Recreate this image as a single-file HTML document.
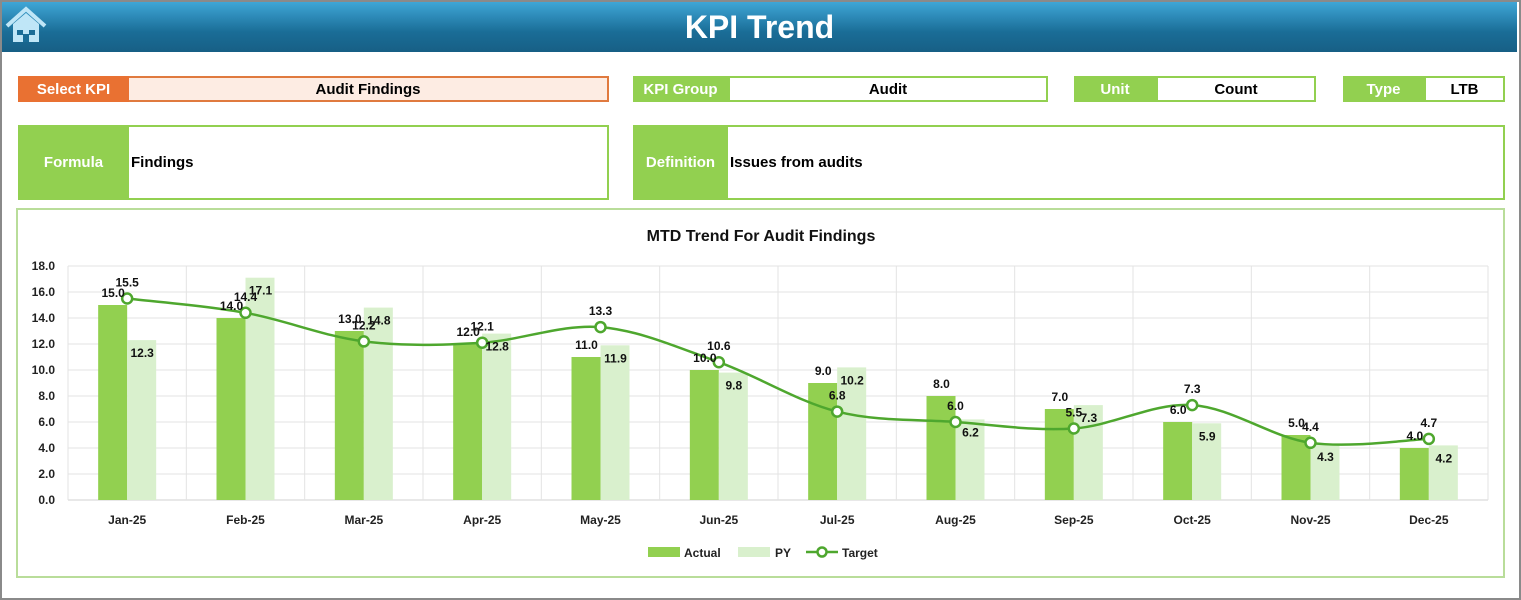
<!DOCTYPE html>
<html><head><meta charset="utf-8"><style>
*{margin:0;padding:0;box-sizing:border-box}
body{width:1521px;height:600px;background:#fff;position:relative;overflow:hidden;font-family:"Liberation Sans Narrow","Liberation Sans",sans-serif;font-weight:bold}
.frame{position:absolute;left:0;top:0;width:1521px;height:600px;border:2px solid #8a8a8a}
.hdr{position:absolute;left:2px;top:2px;width:1515px;height:50px;background:linear-gradient(#3fa6d6,#1a6d97 60%,#175f85);color:#fff;font-size:32px;text-align:center;line-height:50px;font-family:"Liberation Sans",sans-serif}
.b{position:absolute;font-size:15px;display:flex;align-items:center}
.lab{color:#fff;justify-content:center;background:#92d050}
.val{background:#fff;border:2px solid #92d050;justify-content:center;color:#000}
</style></head><body>
<div class="frame"></div>
<div class="hdr">KPI Trend</div>
<svg style="position:absolute;left:5px;top:6px" width="42" height="38" viewBox="0 0 42 38"><path d="M2 20 L21 3 L40 20" fill="none" stroke="#bfe6f7" stroke-width="4"/><path d="M8 18 L8 36 L34 36 L34 18 L21 7 Z" fill="#bfe6f7"/><rect x="12" y="24" width="6" height="5" fill="#1a6d97"/><rect x="24" y="24" width="6" height="5" fill="#1a6d97"/><rect x="18" y="28" width="6" height="8" fill="#1a6d97"/></svg>

<div class="b lab" style="left:18px;top:76px;width:111px;height:26px;background:#e97132">Select KPI</div>
<div class="b val" style="left:129px;top:76px;width:480px;height:26px;background:#fdece3;border-color:#e07a3f;border-left:none">Audit Findings</div>
<div class="b lab" style="left:633px;top:76px;width:95px;height:26px">KPI Group</div>
<div class="b val" style="left:728px;top:76px;width:320px;height:26px">Audit</div>
<div class="b lab" style="left:1074px;top:76px;width:82px;height:26px">Unit</div>
<div class="b val" style="left:1156px;top:76px;width:160px;height:26px">Count</div>
<div class="b lab" style="left:1343px;top:76px;width:81px;height:26px">Type</div>
<div class="b val" style="left:1424px;top:76px;width:81px;height:26px">LTB</div>

<div class="b lab" style="left:18px;top:125px;width:111px;height:75px">Formula</div>
<div class="b val" style="left:129px;top:125px;width:480px;height:75px;justify-content:flex-start;padding-left:2px;border-left:none">Findings</div>
<div class="b lab" style="left:633px;top:125px;width:95px;height:75px">Definition</div>
<div class="b val" style="left:728px;top:125px;width:777px;height:75px;justify-content:flex-start;padding-left:2px;border-left:none">Issues from audits</div>

<div style="position:absolute;left:16px;top:208px;width:1489px;height:370px;border:2px solid #b9dd9a"></div>
<svg id="c" style="position:absolute;left:0;top:0" width="1521" height="600" font-family="Liberation Sans, sans-serif" font-weight="bold"></svg>
<script>
var s=document.getElementById('c'),h='';
var X0=68,X1=1488,Y0=500,K=13,W=(X1-X0)/12;
var m=['Jan-25','Feb-25','Mar-25','Apr-25','May-25','Jun-25','Jul-25','Aug-25','Sep-25','Oct-25','Nov-25','Dec-25'];
var A=[15,14,13,12,11,10,9,8,7,6,5,4],P=[12.3,17.1,14.8,12.8,11.9,9.8,10.2,6.2,7.3,5.9,4.3,4.2],T=[15.5,14.4,12.2,12.1,13.3,10.6,6.8,6.0,5.5,7.3,4.4,4.7];
h+='<text x="761" y="241" text-anchor="middle" font-size="16" fill="#111">MTD Trend For Audit Findings</text>';
for(var i=0;i<=9;i++){var y=Y0-i*2*K;h+='<line x1="'+X0+'" x2="'+X1+'" y1="'+y+'" y2="'+y+'" stroke="'+(i?'#e3e3e3':'#d0d0d0')+'"/>';h+='<text x="55" y="'+(y+4)+'" text-anchor="end" font-size="12" fill="#222">'+(i*2).toFixed(1)+'</text>';}
for(i=0;i<=12;i++){var x=X0+i*W;h+='<line x1="'+x+'" x2="'+x+'" y1="266" y2="500" stroke="#e3e3e3"/>';}
var pts=[];
for(i=0;i<12;i++){var c=X0+W*(i+.5);
h+='<rect x="'+(c-29)+'" y="'+(Y0-A[i]*K)+'" width="29" height="'+A[i]*K+'" fill="#92d050"/>';
h+='<rect x="'+c+'" y="'+(Y0-P[i]*K)+'" width="29" height="'+P[i]*K+'" fill="#d9f0cd"/>';
h+='<text x="'+c+'" y="524" text-anchor="middle" font-size="12" fill="#222">'+m[i]+'</text>';
pts.push([c,Y0-T[i]*K]);}
var d='M'+pts[0];
for(i=0;i<11;i++){var p0=pts[Math.max(i-1,0)],p1=pts[i],p2=pts[i+1],p3=pts[Math.min(i+2,11)];
d+=' C'+(p1[0]+(p2[0]-p0[0])/6)+','+(p1[1]+(p2[1]-p0[1])/6)+' '+(p2[0]-(p3[0]-p1[0])/6)+','+(p2[1]-(p3[1]-p1[1])/6)+' '+p2;}
h+='<path d="'+d+'" fill="none" stroke="#4ea72e" stroke-width="2.5"/>';
for(i=0;i<12;i++){var c=pts[i][0];
h+='<circle cx="'+c+'" cy="'+pts[i][1]+'" r="5" fill="#fff" stroke="#4ea72e" stroke-width="2.5"/>';
h+='<text x="'+(c-14)+'" y="'+(Y0-A[i]*K-8)+'" text-anchor="middle" font-size="12" fill="#111">'+A[i].toFixed(1)+'</text>';
h+='<text x="'+(c+15)+'" y="'+(Y0-P[i]*K+17)+'" text-anchor="middle" font-size="12" fill="#111">'+P[i].toFixed(1)+'</text>';
h+='<text x="'+c+'" y="'+(pts[i][1]-12)+'" text-anchor="middle" font-size="12" fill="#111">'+T[i].toFixed(1)+'</text>';}
h+='<rect x="648" y="547" width="32" height="10" fill="#92d050"/><text x="684" y="557" font-size="12" fill="#222">Actual</text>';
h+='<rect x="738" y="547" width="32" height="10" fill="#d9f0cd"/><text x="775" y="557" font-size="12" fill="#222">PY</text>';
h+='<line x1="806" x2="838" y1="552" y2="552" stroke="#4ea72e" stroke-width="2.5"/><circle cx="822" cy="552" r="4.5" fill="#fff" stroke="#4ea72e" stroke-width="2.5"/><text x="842" y="557" font-size="12" fill="#222">Target</text>';
s.innerHTML=h;
</script>
</body></html>
